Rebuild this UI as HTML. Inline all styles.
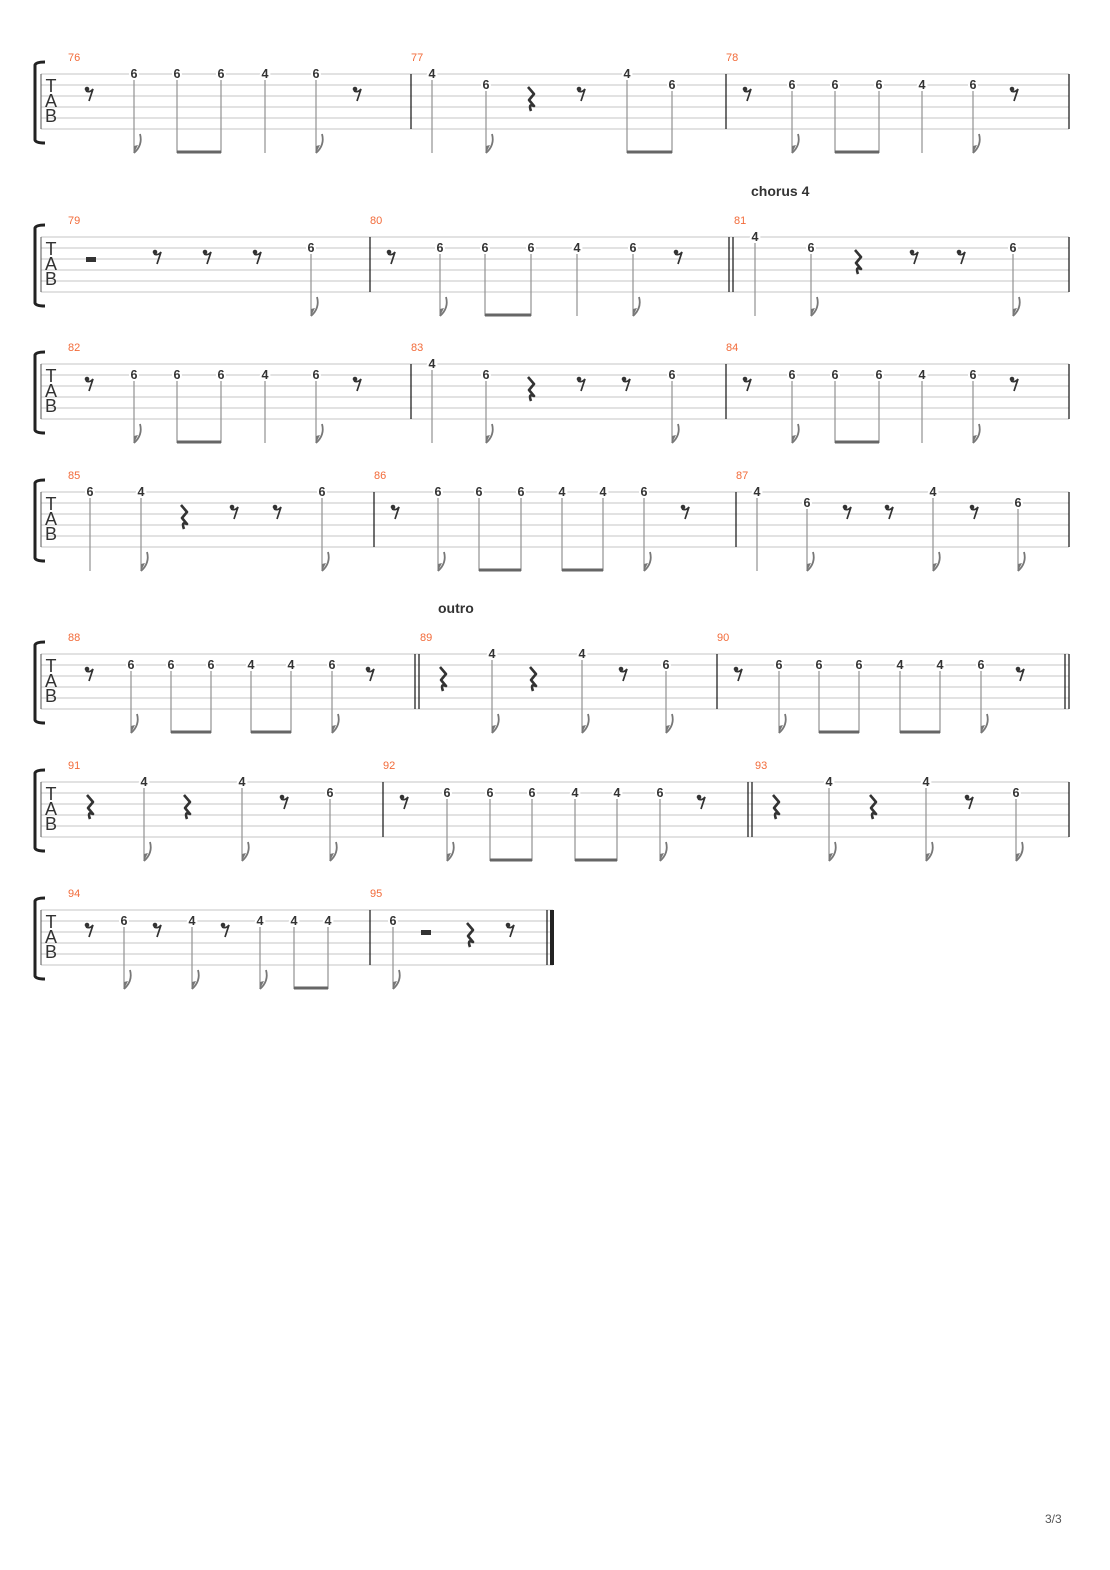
<!DOCTYPE html>
<html><head><meta charset="utf-8"><style>
html,body{margin:0;padding:0;background:#fff;}
svg{display:block;}
.n{font-family:"Liberation Sans",sans-serif;font-size:12.5px;font-weight:bold;fill:#333;text-anchor:middle;paint-order:stroke;stroke:#fff;stroke-width:4px;}
.m{font-family:"Liberation Sans",sans-serif;font-size:11px;fill:#f26b3a;}
.tab{font-family:"Liberation Sans",sans-serif;font-size:18px;fill:#333;text-anchor:middle;}
.st line{stroke:#c4c4c4;stroke-width:1;}
.sm{stroke:#999;stroke-width:1.3;}
.bar{stroke:#222;stroke-width:1.3;}
.lbl{font-family:"Liberation Sans",sans-serif;font-size:14px;font-weight:bold;fill:#333;}
</style></head><body>
<svg width="1110" height="1570" viewBox="0 0 1110 1570" xmlns="http://www.w3.org/2000/svg">
<defs>
<g id="r8"><circle cx="-3" cy="15" r="2.3" fill="#333"/><path d="M-4,17 Q0,19 3,15 L-1,27" fill="none" stroke="#333" stroke-width="1.7"/></g>
<g id="qr"><path d="M-3,13 L3,20 L-2,26 L3,32 Q-3,29 0,37" fill="none" stroke="#333" stroke-width="2.6" stroke-linejoin="round"/></g>
<g id="hr"><rect x="-5" y="20" width="10" height="5" fill="#333"/></g>
<g id="fl"><path d="M0,79 Q9,71 6,60" fill="none" stroke="#777" stroke-width="1.8"/><path d="M0,79 L0,72 L4,71 Z" fill="#777"/></g>
<g id="hd"><path d="M45,-12 Q36,-12 35,-9 L35,66 Q36,69 45,69" fill="none" stroke="#222" stroke-width="3"/>
<line x1="41" y1="0" x2="41" y2="55" stroke="#555" stroke-width="1"/>
<text class="tab" x="51" y="18">T</text><text class="tab" x="51" y="33">A</text><text class="tab" x="51" y="48">B</text></g>
<g id="lines" class="st"><line x1="41" y1="0" x2="1069" y2="0"/><line x1="41" y1="11" x2="1069" y2="11"/><line x1="41" y1="22" x2="1069" y2="22"/><line x1="41" y1="33" x2="1069" y2="33"/><line x1="41" y1="44" x2="1069" y2="44"/><line x1="41" y1="55" x2="1069" y2="55"/></g>
<g id="lines7" class="st"><line x1="41" y1="0" x2="553" y2="0"/><line x1="41" y1="11" x2="553" y2="11"/><line x1="41" y1="22" x2="553" y2="22"/><line x1="41" y1="33" x2="553" y2="33"/><line x1="41" y1="44" x2="553" y2="44"/><line x1="41" y1="55" x2="553" y2="55"/></g>
</defs>

<!-- System 1 -->
<g transform="translate(0,74)">
<use href="#lines"/><use href="#hd"/>
<text class="m" x="68" y="-13">76</text><text class="m" x="411" y="-13">77</text><text class="m" x="726" y="-13">78</text>
<line class="bar" x1="411" y1="0" x2="411" y2="55"/><line class="bar" x1="726" y1="0" x2="726" y2="55"/><line class="bar" x1="1069" y1="0" x2="1069" y2="55"/>
<use href="#r8" x="90"/>
<line class="sm" x1="134" y1="6" x2="134" y2="79"/><use href="#fl" x="134"/><text class="n" x="134" y="4">6</text>
<line class="sm" x1="177" y1="6" x2="177" y2="79"/><line class="sm" x1="221" y1="6" x2="221" y2="79"/><rect x="177" y="76.5" width="44" height="3" fill="#666"/><text class="n" x="177" y="4">6</text><text class="n" x="221" y="4">6</text>
<line class="sm" x1="265" y1="6" x2="265" y2="79"/><text class="n" x="265" y="4">4</text>
<line class="sm" x1="316" y1="6" x2="316" y2="79"/><use href="#fl" x="316"/><text class="n" x="316" y="4">6</text>
<use href="#r8" x="358"/>
<line class="sm" x1="432" y1="6" x2="432" y2="79"/><text class="n" x="432" y="4">4</text>
<line class="sm" x1="486" y1="17" x2="486" y2="79"/><use href="#fl" x="486"/><text class="n" x="486" y="15">6</text>
<use href="#qr" x="531"/><use href="#r8" x="582"/>
<line class="sm" x1="627" y1="6" x2="627" y2="79"/><line class="sm" x1="672" y1="17" x2="672" y2="79"/><rect x="627" y="76.5" width="45" height="3" fill="#666"/><text class="n" x="627" y="4">4</text><text class="n" x="672" y="15">6</text>
<use href="#r8" x="748"/>
<line class="sm" x1="792" y1="17" x2="792" y2="79"/><use href="#fl" x="792"/><text class="n" x="792" y="15">6</text>
<line class="sm" x1="835" y1="17" x2="835" y2="79"/><line class="sm" x1="879" y1="17" x2="879" y2="79"/><rect x="835" y="76.5" width="44" height="3" fill="#666"/><text class="n" x="835" y="15">6</text><text class="n" x="879" y="15">6</text>
<line class="sm" x1="922" y1="17" x2="922" y2="79"/><text class="n" x="922" y="15">4</text>
<line class="sm" x1="973" y1="17" x2="973" y2="79"/><use href="#fl" x="973"/><text class="n" x="973" y="15">6</text>
<use href="#r8" x="1015"/>
</g>

<!-- System 2 -->
<text class="lbl" x="751" y="196">chorus 4</text>
<g transform="translate(0,237)">
<use href="#lines"/><use href="#hd"/>
<text class="m" x="68" y="-13">79</text><text class="m" x="370" y="-13">80</text><text class="m" x="734" y="-13">81</text>
<line class="bar" x1="370" y1="0" x2="370" y2="55"/><line class="bar" x1="729" y1="0" x2="729" y2="55"/><line class="bar" x1="733" y1="0" x2="733" y2="55"/><line class="bar" x1="1069" y1="0" x2="1069" y2="55"/>
<use href="#hr" x="91"/><use href="#r8" x="158"/><use href="#r8" x="208"/><use href="#r8" x="258"/>
<line class="sm" x1="311" y1="17" x2="311" y2="79"/><use href="#fl" x="311"/><text class="n" x="311" y="15">6</text>
<use href="#r8" x="392"/>
<line class="sm" x1="440" y1="17" x2="440" y2="79"/><use href="#fl" x="440"/><text class="n" x="440" y="15">6</text>
<line class="sm" x1="485" y1="17" x2="485" y2="79"/><line class="sm" x1="531" y1="17" x2="531" y2="79"/><rect x="485" y="76.5" width="46" height="3" fill="#666"/><text class="n" x="485" y="15">6</text><text class="n" x="531" y="15">6</text>
<line class="sm" x1="577" y1="17" x2="577" y2="79"/><text class="n" x="577" y="15">4</text>
<line class="sm" x1="633" y1="17" x2="633" y2="79"/><use href="#fl" x="633"/><text class="n" x="633" y="15">6</text>
<use href="#r8" x="679"/>
<line class="sm" x1="755" y1="6" x2="755" y2="79"/><text class="n" x="755" y="4">4</text>
<line class="sm" x1="811" y1="17" x2="811" y2="79"/><use href="#fl" x="811"/><text class="n" x="811" y="15">6</text>
<use href="#qr" x="858"/><use href="#r8" x="915"/><use href="#r8" x="962"/>
<line class="sm" x1="1013" y1="17" x2="1013" y2="79"/><use href="#fl" x="1013"/><text class="n" x="1013" y="15">6</text>
</g>

<!-- System 3 -->
<g transform="translate(0,364)">
<use href="#lines"/><use href="#hd"/>
<text class="m" x="68" y="-13">82</text><text class="m" x="411" y="-13">83</text><text class="m" x="726" y="-13">84</text>
<line class="bar" x1="411" y1="0" x2="411" y2="55"/><line class="bar" x1="726" y1="0" x2="726" y2="55"/><line class="bar" x1="1069" y1="0" x2="1069" y2="55"/>
<use href="#r8" x="90"/>
<line class="sm" x1="134" y1="17" x2="134" y2="79"/><use href="#fl" x="134"/><text class="n" x="134" y="15">6</text>
<line class="sm" x1="177" y1="17" x2="177" y2="79"/><line class="sm" x1="221" y1="17" x2="221" y2="79"/><rect x="177" y="76.5" width="44" height="3" fill="#666"/><text class="n" x="177" y="15">6</text><text class="n" x="221" y="15">6</text>
<line class="sm" x1="265" y1="17" x2="265" y2="79"/><text class="n" x="265" y="15">4</text>
<line class="sm" x1="316" y1="17" x2="316" y2="79"/><use href="#fl" x="316"/><text class="n" x="316" y="15">6</text>
<use href="#r8" x="358"/>
<line class="sm" x1="432" y1="6" x2="432" y2="79"/><text class="n" x="432" y="4">4</text>
<line class="sm" x1="486" y1="17" x2="486" y2="79"/><use href="#fl" x="486"/><text class="n" x="486" y="15">6</text>
<use href="#qr" x="531"/><use href="#r8" x="582"/><use href="#r8" x="627"/>
<line class="sm" x1="672" y1="17" x2="672" y2="79"/><use href="#fl" x="672"/><text class="n" x="672" y="15">6</text>
<use href="#r8" x="748"/>
<line class="sm" x1="792" y1="17" x2="792" y2="79"/><use href="#fl" x="792"/><text class="n" x="792" y="15">6</text>
<line class="sm" x1="835" y1="17" x2="835" y2="79"/><line class="sm" x1="879" y1="17" x2="879" y2="79"/><rect x="835" y="76.5" width="44" height="3" fill="#666"/><text class="n" x="835" y="15">6</text><text class="n" x="879" y="15">6</text>
<line class="sm" x1="922" y1="17" x2="922" y2="79"/><text class="n" x="922" y="15">4</text>
<line class="sm" x1="973" y1="17" x2="973" y2="79"/><use href="#fl" x="973"/><text class="n" x="973" y="15">6</text>
<use href="#r8" x="1015"/>
</g>

<!-- System 4 -->
<g transform="translate(0,492)">
<use href="#lines"/><use href="#hd"/>
<text class="m" x="68" y="-13">85</text><text class="m" x="374" y="-13">86</text><text class="m" x="736" y="-13">87</text>
<line class="bar" x1="374" y1="0" x2="374" y2="55"/><line class="bar" x1="736" y1="0" x2="736" y2="55"/><line class="bar" x1="1069" y1="0" x2="1069" y2="55"/>
<line class="sm" x1="90" y1="6" x2="90" y2="79"/><text class="n" x="90" y="4">6</text>
<line class="sm" x1="141" y1="6" x2="141" y2="79"/><use href="#fl" x="141"/><text class="n" x="141" y="4">4</text>
<use href="#qr" x="184"/><use href="#r8" x="235"/><use href="#r8" x="278"/>
<line class="sm" x1="322" y1="6" x2="322" y2="79"/><use href="#fl" x="322"/><text class="n" x="322" y="4">6</text>
<use href="#r8" x="396"/>
<line class="sm" x1="438" y1="6" x2="438" y2="79"/><use href="#fl" x="438"/><text class="n" x="438" y="4">6</text>
<line class="sm" x1="479" y1="6" x2="479" y2="79"/><line class="sm" x1="521" y1="6" x2="521" y2="79"/><rect x="479" y="76.5" width="42" height="3" fill="#666"/><text class="n" x="479" y="4">6</text><text class="n" x="521" y="4">6</text>
<line class="sm" x1="562" y1="6" x2="562" y2="79"/><line class="sm" x1="603" y1="6" x2="603" y2="79"/><rect x="562" y="76.5" width="41" height="3" fill="#666"/><text class="n" x="562" y="4">4</text><text class="n" x="603" y="4">4</text>
<line class="sm" x1="644" y1="6" x2="644" y2="79"/><use href="#fl" x="644"/><text class="n" x="644" y="4">6</text>
<use href="#r8" x="686"/>
<line class="sm" x1="757" y1="6" x2="757" y2="79"/><text class="n" x="757" y="4">4</text>
<line class="sm" x1="807" y1="17" x2="807" y2="79"/><use href="#fl" x="807"/><text class="n" x="807" y="15">6</text>
<use href="#r8" x="848"/><use href="#r8" x="890"/>
<line class="sm" x1="933" y1="6" x2="933" y2="79"/><use href="#fl" x="933"/><text class="n" x="933" y="4">4</text>
<use href="#r8" x="975"/>
<line class="sm" x1="1018" y1="17" x2="1018" y2="79"/><use href="#fl" x="1018"/><text class="n" x="1018" y="15">6</text>
</g>

<!-- System 5 -->
<text class="lbl" x="438" y="613">outro</text>
<g transform="translate(0,654)">
<use href="#lines"/><use href="#hd"/>
<text class="m" x="68" y="-13">88</text><text class="m" x="420" y="-13">89</text><text class="m" x="717" y="-13">90</text>
<line class="bar" x1="415" y1="0" x2="415" y2="55"/><line class="bar" x1="419" y1="0" x2="419" y2="55"/><line class="bar" x1="717" y1="0" x2="717" y2="55"/><line class="bar" x1="1065" y1="0" x2="1065" y2="55"/><line class="bar" x1="1069" y1="0" x2="1069" y2="55"/>
<use href="#r8" x="90"/>
<line class="sm" x1="131" y1="17" x2="131" y2="79"/><use href="#fl" x="131"/><text class="n" x="131" y="15">6</text>
<line class="sm" x1="171" y1="17" x2="171" y2="79"/><line class="sm" x1="211" y1="17" x2="211" y2="79"/><rect x="171" y="76.5" width="40" height="3" fill="#666"/><text class="n" x="171" y="15">6</text><text class="n" x="211" y="15">6</text>
<line class="sm" x1="251" y1="17" x2="251" y2="79"/><line class="sm" x1="291" y1="17" x2="291" y2="79"/><rect x="251" y="76.5" width="40" height="3" fill="#666"/><text class="n" x="251" y="15">4</text><text class="n" x="291" y="15">4</text>
<line class="sm" x1="332" y1="17" x2="332" y2="79"/><use href="#fl" x="332"/><text class="n" x="332" y="15">6</text>
<use href="#r8" x="371"/>
<use href="#qr" x="443"/>
<line class="sm" x1="492" y1="6" x2="492" y2="79"/><use href="#fl" x="492"/><text class="n" x="492" y="4">4</text>
<use href="#qr" x="533"/>
<line class="sm" x1="582" y1="6" x2="582" y2="79"/><use href="#fl" x="582"/><text class="n" x="582" y="4">4</text>
<use href="#r8" x="624"/>
<line class="sm" x1="666" y1="17" x2="666" y2="79"/><use href="#fl" x="666"/><text class="n" x="666" y="15">6</text>
<use href="#r8" x="739"/>
<line class="sm" x1="779" y1="17" x2="779" y2="79"/><use href="#fl" x="779"/><text class="n" x="779" y="15">6</text>
<line class="sm" x1="819" y1="17" x2="819" y2="79"/><line class="sm" x1="859" y1="17" x2="859" y2="79"/><rect x="819" y="76.5" width="40" height="3" fill="#666"/><text class="n" x="819" y="15">6</text><text class="n" x="859" y="15">6</text>
<line class="sm" x1="900" y1="17" x2="900" y2="79"/><line class="sm" x1="940" y1="17" x2="940" y2="79"/><rect x="900" y="76.5" width="40" height="3" fill="#666"/><text class="n" x="900" y="15">4</text><text class="n" x="940" y="15">4</text>
<line class="sm" x1="981" y1="17" x2="981" y2="79"/><use href="#fl" x="981"/><text class="n" x="981" y="15">6</text>
<use href="#r8" x="1021"/>
</g>

<!-- System 6 -->
<g transform="translate(0,782)">
<use href="#lines"/><use href="#hd"/>
<text class="m" x="68" y="-13">91</text><text class="m" x="383" y="-13">92</text><text class="m" x="755" y="-13">93</text>
<line class="bar" x1="383" y1="0" x2="383" y2="55"/><line class="bar" x1="748" y1="0" x2="748" y2="55"/><line class="bar" x1="752" y1="0" x2="752" y2="55"/><line class="bar" x1="1069" y1="0" x2="1069" y2="55"/>
<use href="#qr" x="90"/>
<line class="sm" x1="144" y1="6" x2="144" y2="79"/><use href="#fl" x="144"/><text class="n" x="144" y="4">4</text>
<use href="#qr" x="187"/>
<line class="sm" x1="242" y1="6" x2="242" y2="79"/><use href="#fl" x="242"/><text class="n" x="242" y="4">4</text>
<use href="#r8" x="285"/>
<line class="sm" x1="330" y1="17" x2="330" y2="79"/><use href="#fl" x="330"/><text class="n" x="330" y="15">6</text>
<use href="#r8" x="405"/>
<line class="sm" x1="447" y1="17" x2="447" y2="79"/><use href="#fl" x="447"/><text class="n" x="447" y="15">6</text>
<line class="sm" x1="490" y1="17" x2="490" y2="79"/><line class="sm" x1="532" y1="17" x2="532" y2="79"/><rect x="490" y="76.5" width="42" height="3" fill="#666"/><text class="n" x="490" y="15">6</text><text class="n" x="532" y="15">6</text>
<line class="sm" x1="575" y1="17" x2="575" y2="79"/><line class="sm" x1="617" y1="17" x2="617" y2="79"/><rect x="575" y="76.5" width="42" height="3" fill="#666"/><text class="n" x="575" y="15">4</text><text class="n" x="617" y="15">4</text>
<line class="sm" x1="660" y1="17" x2="660" y2="79"/><use href="#fl" x="660"/><text class="n" x="660" y="15">6</text>
<use href="#r8" x="702"/>
<use href="#qr" x="776"/>
<line class="sm" x1="829" y1="6" x2="829" y2="79"/><use href="#fl" x="829"/><text class="n" x="829" y="4">4</text>
<use href="#qr" x="873"/>
<line class="sm" x1="926" y1="6" x2="926" y2="79"/><use href="#fl" x="926"/><text class="n" x="926" y="4">4</text>
<use href="#r8" x="970"/>
<line class="sm" x1="1016" y1="17" x2="1016" y2="79"/><use href="#fl" x="1016"/><text class="n" x="1016" y="15">6</text>
</g>

<!-- System 7 -->
<g transform="translate(0,910)">
<use href="#lines7"/><use href="#hd"/>
<text class="m" x="68" y="-13">94</text><text class="m" x="370" y="-13">95</text>
<line class="bar" x1="370" y1="0" x2="370" y2="55"/><line class="bar" x1="547" y1="0" x2="547" y2="55"/><rect x="550" y="0" width="4" height="55" fill="#222"/>
<use href="#r8" x="90"/>
<line class="sm" x1="124" y1="17" x2="124" y2="79"/><use href="#fl" x="124"/><text class="n" x="124" y="15">6</text>
<use href="#r8" x="158"/>
<line class="sm" x1="192" y1="17" x2="192" y2="79"/><use href="#fl" x="192"/><text class="n" x="192" y="15">4</text>
<use href="#r8" x="226"/>
<line class="sm" x1="260" y1="17" x2="260" y2="79"/><use href="#fl" x="260"/><text class="n" x="260" y="15">4</text>
<line class="sm" x1="294" y1="17" x2="294" y2="79"/><line class="sm" x1="328" y1="17" x2="328" y2="79"/><rect x="294" y="76.5" width="34" height="3" fill="#666"/><text class="n" x="294" y="15">4</text><text class="n" x="328" y="15">4</text>
<line class="sm" x1="393" y1="17" x2="393" y2="79"/><use href="#fl" x="393"/><text class="n" x="393" y="15">6</text>
<use href="#hr" x="426"/><use href="#qr" x="470"/><use href="#r8" x="511"/>
</g>

<text x="1045" y="1523" font-family="Liberation Sans, sans-serif" font-size="12" fill="#555">3/3</text>
</svg>
</body></html>
